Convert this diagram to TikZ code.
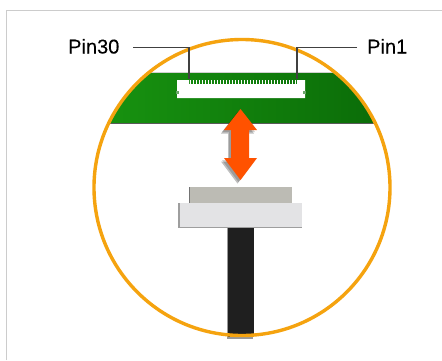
\documentclass[tikz,border=0pt]{standalone}
\usepackage{fontspec}
\setmainfont[FakeBold=0.2]{Liberation Sans}
\usetikzlibrary{calc}
\definecolor{ringc}{HTML}{F5A30F}
\definecolor{arrowc}{HTML}{FF5200}
\definecolor{pcbA}{HTML}{189410}
\definecolor{pcbB}{HTML}{0A6A08}
\definecolor{plugtop}{HTML}{BCBBB4}
\definecolor{plugbody}{HTML}{E3E3E5}
\tikzset{
  pinlabel/.style={font=\fontsize{20}{22}\selectfont,inner sep=0pt,text=black},
  leader/.style={draw=black!75,line width=1.2pt},
  framec/.style={draw=black!20,line width=1.5pt},
  ring/.style={draw=ringc,line width=3.4pt}
}
\newcommand{\arrowpath}{(240.5,109) -- (224,130) -- (231,130) -- (231,158) -- (224,158) -- (240.5,180)
  -- (257,158) -- (249,158) -- (249,130) -- (257,130) -- cycle}
\begin{document}
\begin{tikzpicture}[x=1pt,y=-1pt]
\useasboundingbox (0,0) rectangle (442,360);
\fill[white] (0,0) rectangle (442,360);
% frame
\draw[framec] (6.5,360) -- (6.5,10.5) -- (442,10.5);
% pcb
\begin{scope}
\clip (242,187.5) circle[radius=148];
\fill[left color=pcbA,right color=pcbB] (90,73) rectangle (395,123);
\fill[black!65] (90,122.5) rectangle (395,124);
\fill[black!18] (90,72) rectangle (395,73);
\end{scope}
% connector on the board
\fill[white] (177,80) -- (189,80) -- (189,84) -- (297,84) -- (297,80) -- (305,80)
  -- (305,98) -- (177,98) -- cycle;
\foreach \i in {0,...,35} {\fill[white] ({190+\i*3},80) rectangle ++(1.3,4);}
\fill[pcbB!60!white] (176,91) rectangle (179,94);
\fill[pcbB!60!white] (303,91) rectangle (306,94);
% arrow shadow and arrow
\begin{scope}[xshift=-2pt,yshift=-2pt]
\fill[black,opacity=.18] \arrowpath;
\end{scope}
\begin{scope}[xshift=-3pt,yshift=-3.5pt]
\fill[black,opacity=.25] \arrowpath;
\end{scope}
\fill[arrowc] \arrowpath;
% plug
\fill[black!40] (226.5,228) rectangle (253,339);
\fill[black!88] (228,228) rectangle (254,337);
\fill[black!55] (188.5,187) rectangle (292,203);
\fill[plugtop] (190,187) rectangle (292,203);
\fill[black!38] (178,203) rectangle (302,228);
\fill[plugbody] (180,203) rectangle (302,227);
% ring
\draw[ring] (242,187.5) circle[radius=148];
% labels and leaders
\node[pinlabel,anchor=base west] (p30) at (68,53.5) {Pin30};
\node[pinlabel,anchor=base west] (p1) at (367,53.5) {Pin1};
\coordinate (e30) at (189,79);
\coordinate (e1) at (297,79);
\coordinate (s30) at (133,47.5);
\coordinate (s1) at (357,47.5);
\draw[leader] (s30) -| (e30);
\draw[leader] (s1) -| (e1);
\end{tikzpicture}
\end{document}
